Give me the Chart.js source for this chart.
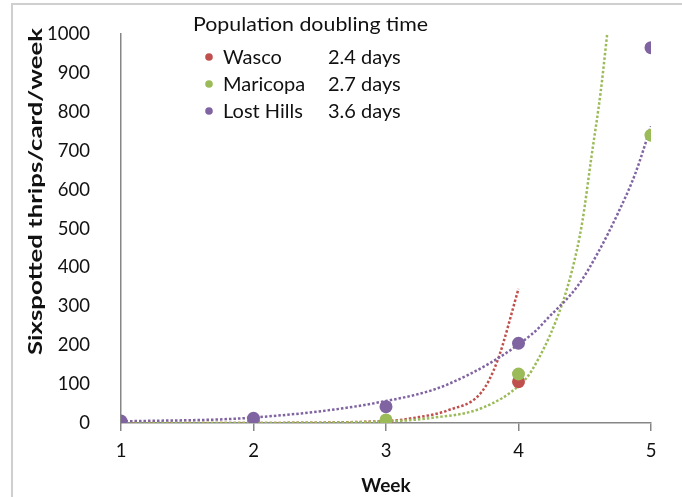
<!DOCTYPE html>
<html>
<head>
<meta charset="utf-8">
<script src="https://cdn.jsdelivr.net/npm/chart.js@4"></script>
<style>
  body { margin: 0; background: #fff; }
</style>
</head>
<body>
<canvas id="chart" width="682" height="497"></canvas>
<script>
// observed counts per week
const weeks = [1, 2, 3, 4, 5];
const wasco = [0, 0, 2, 106, null];
const maricopa = [0, 1, 8, 126, 740];
const lostHills = [5, 12, 42, 205, 965];

// exponential trendlines, values
const wascoTrendX = [1, 2, 3, 3.21, 3.47, 3.72, 3.84, 4];
const wascoTrendY = [0, 0.2, 5, 13, 33, 79, 159, 345];
const maricopaTrendX = [1, 2, 3, 3.34, 3.72, 4.02, 4.1, 4.29, 4.4, 4.48, 4.55, 4.62, 4.67];
const maricopaTrendY = [0, 0.2, 4, 13, 38, 101, 135, 269, 387, 514, 683, 851, 1002];
const lostHillsTrendX = [1, 2, 2.96, 3.47, 4.1, 4.22, 4.45, 4.6, 4.75, 4.88, 5];
const lostHillsTrendY = [4, 14, 54, 100, 228, 269, 354, 438, 539, 640, 763];

const sites = ["Wasco", "Maricopa", "Lost Hills"];
const doubling = ["2.4 days", "2.7 days", "3.6 days"];
const colors = ["#C0504D", "#9BBB59", "#8064A2"];
const yTicks = [0, 100, 200, 300, 400, 500, 600, 700, 800, 900, 1000];

const textColor = "#111";
const axisColor = "#868686";

Chart.defaults.font.family = "Lato, 'Liberation Sans', sans-serif";
Chart.defaults.color = textColor;

function pts(xs, ys) {
  return xs.map((x, i) => ({ x: x, y: ys[i] }));
}

function trend(xs, ys, color, order) {
  return {
    data: pts(xs, ys),
    showLine: true,
    borderColor: color,
    borderWidth: 2.5,
    borderDash: [2.5, 2],
    pointRadius: 0,
    cubicInterpolationMode: "monotone",
    order: order,
  };
}

function dots(ys, color, order) {
  return {
    data: pts(weeks, ys).filter((p) => p.y !== null),
    showLine: false,
    pointRadius: 6.5,
    pointBackgroundColor: color,
    pointBorderWidth: 0,
    order: order,
  };
}

// draw text squeezed/stretched to a given width
function fitText(ctx, text, x, y, width) {
  const w = ctx.measureText(text).width;
  ctx.save();
  ctx.translate(x, y);
  ctx.scale(width / w, 1);
  ctx.fillText(text, 0, 0);
  ctx.restore();
}

const extras = {
  id: "extras",
  beforeDraw(chart) {
    const ctx = chart.ctx;
    ctx.save();
    ctx.strokeStyle = "#cfcfcf";
    ctx.lineWidth = 2;
    ctx.beginPath();
    ctx.moveTo(12, 497);
    ctx.lineTo(12, 4);
    ctx.lineTo(682, 4);
    ctx.stroke();
    ctx.restore();
  },
  afterDraw(chart) {
    const ctx = chart.ctx;
    ctx.save();
    // y axis title
    ctx.fillStyle = textColor;
    ctx.font = "bold 18px Lato";
    ctx.textAlign = "left";
    ctx.textBaseline = "alphabetic";
    ctx.translate(42, 355);
    ctx.rotate(-Math.PI / 2);
    fitText(ctx, "Sixspotted thrips/card/week", 0, 0, 327);
    ctx.restore();

    // legend box
    ctx.save();
    ctx.fillStyle = textColor;
    ctx.font = "20px Lato";
    ctx.textBaseline = "alphabetic";
    ctx.textAlign = "left";
    fitText(ctx, "Population doubling time", 193, 31, 235);
    const rows = [64, 91, 118];
    sites.forEach((name, i) => {
      ctx.fillStyle = colors[i];
      ctx.beginPath();
      ctx.arc(209, rows[i] - 7, 3.8, 0, Math.PI * 2);
      ctx.fill();
      ctx.fillStyle = textColor;
      ctx.fillText(name, 223, rows[i]);
      ctx.fillText(doubling[i], 328, rows[i]);
    });
    ctx.restore();
  },
};

new Chart(document.getElementById("chart"), {
  type: "scatter",
  data: {
    datasets: [
      dots(lostHills, colors[2], 0),
      dots(maricopa, colors[1], 1),
      dots(wasco, colors[0], 2),
      trend(lostHillsTrendX, lostHillsTrendY, colors[2], 3),
      trend(maricopaTrendX, maricopaTrendY, colors[1], 4),
      trend(wascoTrendX, wascoTrendY, colors[0], 5),
    ],
  },
  options: {
    responsive: false,
    animation: false,
    layout: { padding: { top: 28, right: 31, left: 0, bottom: 0 } },
    plugins: {
      legend: { display: false },
      tooltip: { enabled: false },
    },
    scales: {
      x: {
        type: "linear",
        min: 1,
        max: 5,
        afterFit: (s) => { s.height = 74; },
        afterBuildTicks: (s) => { s.ticks = weeks.map((v) => ({ value: v })); },
        ticks: { font: { size: 18.5 }, padding: 9, color: textColor, callback: (v) => String(v) },
        grid: { drawOnChartArea: false, drawTicks: true, tickLength: 8, color: axisColor, lineWidth: 1.5 },
        border: { color: axisColor, width: 1.5 },
        title: { display: true, text: "Week", font: { size: 19, weight: "bold" }, color: textColor, padding: { top: 0, bottom: 0 } },
      },
      y: {
        min: 0,
        max: 1000,
        afterFit: (s) => { s.width = 121; },
        afterBuildTicks: (s) => { s.ticks = yTicks.map((v) => ({ value: v })); },
        ticks: { font: { size: 18.5 }, padding: 23, color: textColor, callback: (v) => String(v) },
        grid: { display: false },
        border: { color: axisColor, width: 1.5 },
      },
    },
  },
  plugins: [extras],
});
</script>
</body>
</html>
